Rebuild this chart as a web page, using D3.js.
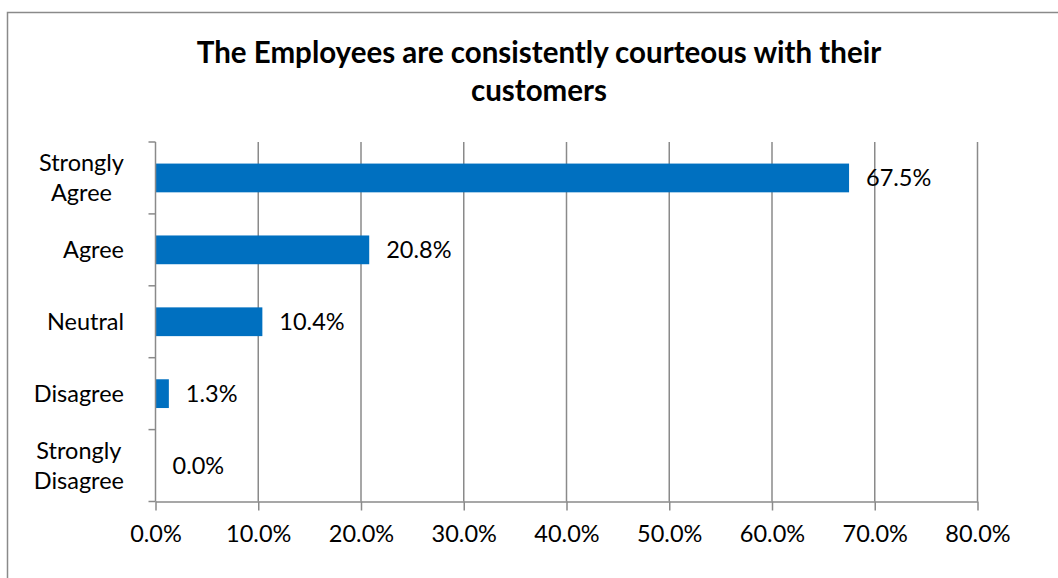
<!DOCTYPE html>
<html>
<head>
<meta charset="utf-8">
<script src="https://cdn.jsdelivr.net/npm/d3@7"></script>
<style>
  html, body { margin: 0; padding: 0; background: #fff; }
  svg { display: block; }
  text { font-family: Lato, "Open Sans", sans-serif; fill: #000; }
</style>
</head>
<body>
<svg id="chart" width="1058" height="578"></svg>
<script>
// Survey responses
const categories = [["Strongly", "Agree"], ["Agree"], ["Neutral"], ["Disagree"], ["Strongly", "Disagree"]];
const values = [67.5, 20.8, 10.4, 1.3, 0.0];
const xTicks = [0, 10, 20, 30, 40, 50, 60, 70, 80];
const titleLines = ["The Employees are consistently courteous with their", "customers"];

const svg = d3.select("#chart");
const W = 1058, H = 578;
const margin = { left: 155.5, right: W - 977.5, top: 142, bottom: H - 501.5 };
const grid = "#8a8a8a";
const barColor = "#0070C0";
const fs = "23.5px";

// outer frame
svg.append("rect")
  .attr("x", 7.5).attr("y", 12.5)
  .attr("width", W + 20).attr("height", H + 20)
  .attr("fill", "none").attr("stroke", grid).attr("stroke-width", 1.5);

// title
svg.append("text")
  .attr("x", 539).attr("y", 63)
  .attr("text-anchor", "middle")
  .style("font-weight", "bold").style("font-size", "29.5px")
  .selectAll("tspan").data(titleLines).join("tspan")
  .attr("x", 539).attr("dy", (d, i) => i === 0 ? 0 : 38)
  .text(d => d);

const keys = categories.map(c => c.join(" "));
const x = d3.scaleLinear().domain([0, 80]).range([margin.left, W - margin.right]);
const y = d3.scaleBand().domain(keys).range([margin.top, H - margin.bottom])
  .paddingInner(0.6).paddingOuter(0.3);
const step = y.step();

// vertical gridlines
svg.append("g").selectAll("line").data(xTicks.filter(d => d > 0)).join("line")
  .attr("x1", d => x(d)).attr("x2", d => x(d))
  .attr("y1", margin.top).attr("y2", H - margin.bottom)
  .attr("stroke", grid).attr("stroke-width", 1.5);

// bars
svg.append("g").selectAll("rect").data(values).join("rect")
  .attr("x", x(0))
  .attr("y", (d, i) => y(keys[i]))
  .attr("width", d => x(d) - x(0))
  .attr("height", y.bandwidth())
  .attr("fill", barColor);

// value labels
svg.append("g").selectAll("text").data(values).join("text")
  .attr("x", d => x(d) + 17)
  .attr("y", (d, i) => y(keys[i]) + y.bandwidth() / 2)
  .attr("dy", "0.36em")
  .style("font-size", fs)
  .text(d => d.toFixed(1) + "%");

// x axis
const xAxis = svg.append("g")
  .attr("transform", `translate(0,${H - margin.bottom})`)
  .call(d3.axisBottom(x).tickValues(xTicks).tickFormat(d => d.toFixed(1) + "%")
    .tickSize(9).tickSizeOuter(0).tickPadding(15));
xAxis.select(".domain").attr("stroke", grid).attr("stroke-width", 1.5);
xAxis.selectAll(".tick line").attr("stroke", grid).attr("stroke-width", 1.5);
xAxis.selectAll(".tick text").style("font-size", fs).attr("fill", "#000")
  .style("font-family", "Lato, 'Open Sans', sans-serif");

// y axis line and category boundary ticks
const yAxis = svg.append("g");
yAxis.append("line")
  .attr("x1", x(0)).attr("x2", x(0))
  .attr("y1", margin.top).attr("y2", H - margin.bottom)
  .attr("stroke", grid).attr("stroke-width", 1.5);
const bounds = keys.map(k => y(k) - y.paddingOuter() * step).concat([H - margin.bottom]);
yAxis.selectAll("line.tk").data(bounds).join("line").attr("class", "tk")
  .attr("x1", x(0) - 7).attr("x2", x(0))
  .attr("y1", d => d).attr("y2", d => d)
  .attr("stroke", grid).attr("stroke-width", 1.5);

// category labels: block right-aligned, lines centered within block
const labelRight = 124;
const lineH = 30;
const lg = svg.append("g").style("font-size", fs);
categories.forEach((lines, i) => {
  const cy = y(keys[i]) + y.bandwidth() / 2;
  const t = lg.append("text").attr("text-anchor", "middle");
  lines.forEach((ln, j) => {
    t.append("tspan").attr("y", cy + (j - (lines.length - 1) / 2) * lineH).text(ln);
  });
  t.selectAll("tspan").attr("dy", "0.36em");
  const widths = t.selectAll("tspan").nodes().map(n => n.getComputedTextLength());
  const cx = labelRight - d3.max(widths) / 2;
  t.selectAll("tspan").attr("x", cx);
});
</script>
</body>
</html>
